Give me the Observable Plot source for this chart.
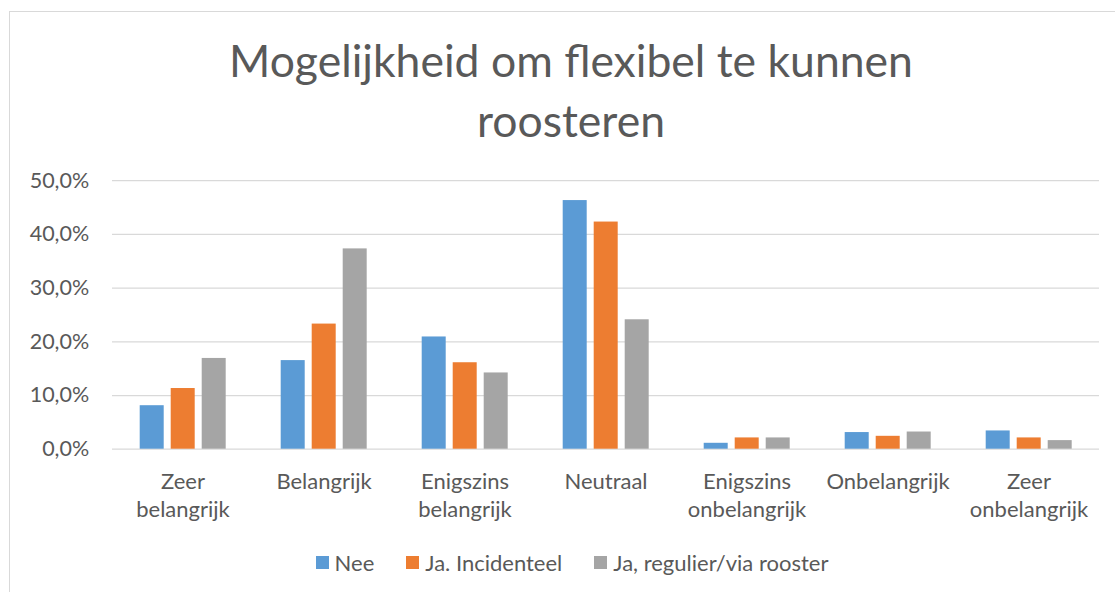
<!DOCTYPE html>
<html>
<head>
<meta charset="utf-8">
<script src="https://cdn.jsdelivr.net/npm/d3@7"></script>
<script src="https://cdn.jsdelivr.net/npm/@observablehq/plot@0.6"></script>
<style>
  html, body { margin: 0; padding: 0; background: #fff; }
  #wrap { position: relative; width: 1115px; height: 592px; overflow: hidden; background: #fff; font-family: Lato, "Open Sans", sans-serif; color: #595959; }
  #frame { position: absolute; left: 9px; top: 11px; width: 1200px; height: 700px; border: 1px solid #d9d9d9; box-sizing: border-box; }
  #title { position: absolute; left: 0; top: 30px; width: 1142px; text-align: center; font-size: 44.5px; line-height: 60px; }
  #chart { position: absolute; left: 0; top: 150px; }
  #legend { position: absolute; left: 0; top: 547px; width: 1144px; height: 30px; display: flex; justify-content: center; align-items: center; font-size: 22px; }
  .item { display: flex; align-items: center; margin: 0 16px; }
  .sw { width: 13px; height: 13px; margin-right: 6px; }
</style>
</head>
<body>
<div id="wrap">
  <div id="frame"></div>
  <div id="title">Mogelijkheid om flexibel te kunnen<br>roosteren</div>
  <div id="chart"></div>
  <div id="legend"></div>
</div>
<script>
const categories = ["Zeer belangrijk", "Belangrijk", "Enigszins belangrijk", "Neutraal", "Enigszins onbelangrijk", "Onbelangrijk", "Zeer onbelangrijk"];
const tickLabels = ["Zeer\nbelangrijk", "Belangrijk", "Enigszins\nbelangrijk", "Neutraal", "Enigszins\nonbelangrijk", "Onbelangrijk", "Zeer\nonbelangrijk"];
const series = ["Nee", "Ja. Incidenteel", "Ja, regulier/via rooster"];
const nee = [8.1, 16.5, 20.9, 46.3, 1.1, 3.1, 3.4];
const incidenteel = [11.3, 23.3, 16.1, 42.3, 2.1, 2.4, 2.1];
const regulier = [16.9, 37.3, 14.2, 24.1, 2.1, 3.2, 1.6];
const colors = ["#5B9BD5", "#ED7D31", "#A5A5A5"];
const yTicks = [0, 10, 20, 30, 40, 50];

const seriesValues = [nee, incidenteel, regulier];
const rows = [];
categories.forEach((c, i) => {
  series.forEach((s, j) => rows.push({category: c, series: s, value: seriesValues[j][i]}));
});

const chart = Plot.plot({
  width: 1115,
  height: 395,
  marginTop: 30.2,
  marginBottom: 96.3,
  marginLeft: 109.3,
  marginRight: 14.3,
  style: {fontFamily: "Lato, 'Open Sans', sans-serif", color: "#595959", background: "transparent", overflow: "visible"},
  fx: {domain: categories, padding: 0, label: null},
  x: {domain: series, paddingInner: 0.22, paddingOuter: 0.872, axis: null},
  y: {domain: [0, 50], label: null},
  color: {domain: series, range: colors},
  marks: [
    Plot.gridY({ticks: yTicks, stroke: "#d9d9d9", strokeOpacity: 1, strokeWidth: 1.25}),
    Plot.axisY({ticks: yTicks, tickSize: 0, tickPadding: 23.3, fontSize: 21.5, fill: "#595959", label: null, facetAnchor: "left",
      tickFormat: d => d.toFixed(1).replace(".", ",") + "%"}),
    Plot.barY(rows, {fx: "category", x: "series", y: "value", fill: "series"}),
    Plot.axisFx({anchor: "bottom", tickSize: 0, tickPadding: 20, fontSize: 22, lineHeight: 1.28, fill: "#595959", label: null,
      tickFormat: d => tickLabels[categories.indexOf(d)]})
  ]
});
document.getElementById("chart").appendChild(chart);

const legend = document.getElementById("legend");
series.forEach((s, i) => {
  const item = document.createElement("div");
  item.className = "item";
  const sw = document.createElement("div");
  sw.className = "sw";
  sw.style.background = colors[i];
  const t = document.createElement("span");
  t.textContent = s;
  item.appendChild(sw);
  item.appendChild(t);
  legend.appendChild(item);
});
</script>
</body>
</html>
